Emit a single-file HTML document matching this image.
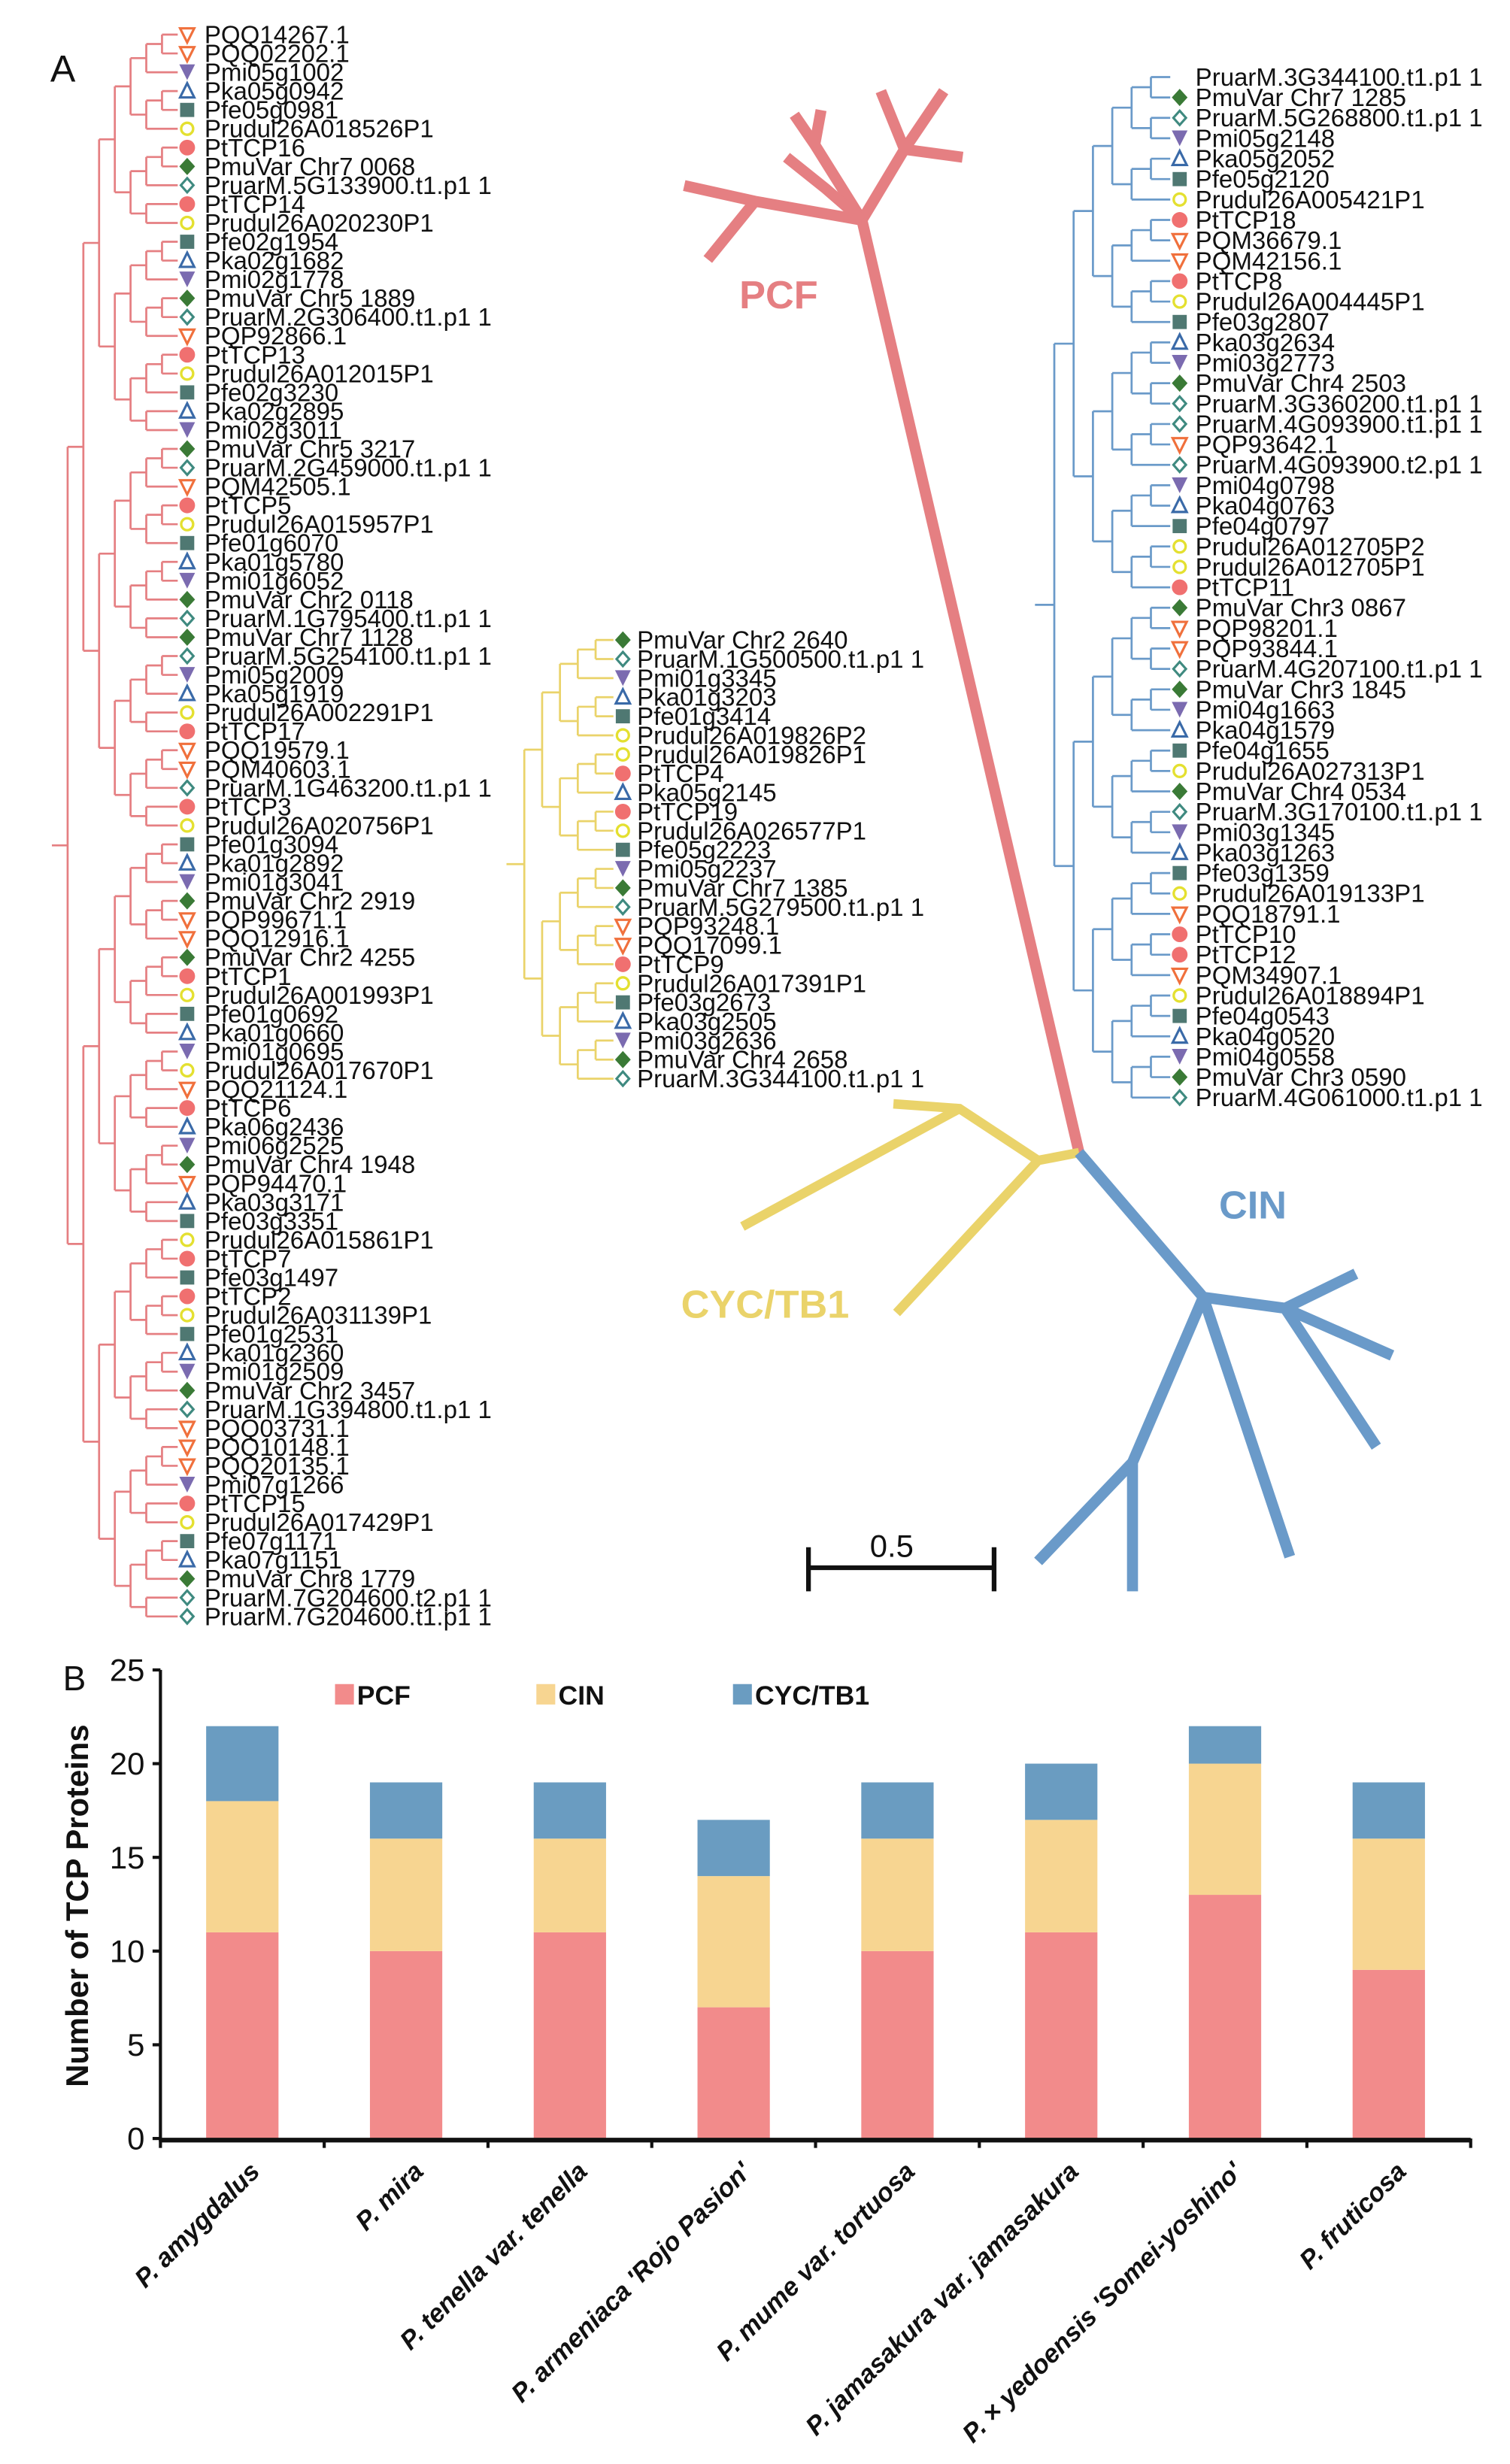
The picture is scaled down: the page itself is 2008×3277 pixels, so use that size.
<!DOCTYPE html>
<html><head><meta charset="utf-8"><style>
html,body{margin:0;padding:0;background:#fff}
svg{display:block}
text{font-family:"Liberation Sans",Arial,sans-serif}
</style></head><body>
<svg id="s" width="2008" height="3277" viewBox="0 0 960 1567" preserveAspectRatio="none" xmlns="http://www.w3.org/2000/svg">
<rect width="960" height="1567" fill="#fff"/>
<text x="32" y="52" font-size="24" fill="#111">A</text>
<g id="trees"></g>
<g fill="none" stroke-linecap="butt">
<g stroke="#e57f82" stroke-width="7">
<path d="M686,733 L548,140"/>
<path d="M548,140 L518,92 L505,73 M518,92 L522,70"/>
<path d="M548,140 L480,128 L435,118 M480,128 L450,165"/>
<path d="M548,140 L575,95 L560,58 M575,95 L600,58 M575,95 L612,100"/>
<path d="M548,140 L525,120 L500,100"/>
</g>
<g stroke="#ead36a" stroke-width="6">
<path d="M686,733 L660,738 L610,705 L568,702 M610,705 L472,780 M660,738 L570,835"/>
</g>
<g stroke="#6a9ac9" stroke-width="7">
<path d="M686,733 L765,825 L817,832 L862,810 M817,832 L885,862 M817,832 L875,920 M765,825 L720,930 L660,993 M720,930 L720,1012 M765,825 L820,990"/>
</g>
</g>
<text x="470" y="196" font-size="25" font-weight="bold" fill="#e57f82">PCF</text>
<text x="775" y="775" font-size="25" font-weight="bold" fill="#6a9ac9">CIN</text>
<text x="433" y="838" font-size="25" font-weight="bold" fill="#ead36a">CYC/TB1</text>
<path d="M514,997 H632 M514,984 V1012 M632,984 V1012" stroke="#111" stroke-width="3" fill="none"/>
<text x="553" y="990" font-size="20" fill="#111">0.5</text>
<text x="40" y="1075" font-size="22" fill="#111">B</text>
<g id="chart"></g>
</svg>
<script>
var NS="http://www.w3.org/2000/svg";
function el(p,t,a,txt){var e=document.createElementNS(NS,t);for(var k in a)e.setAttribute(k,a[k]);if(txt!=null)e.textContent=txt;p.appendChild(e);return e;}
var T=document.getElementById('trees');
function sym(x,y,name){
 var g=T;
 if(/^PQ/.test(name)) el(g,'path',{d:'M'+(x-4.5)+','+(y-4)+' L'+(x+4.5)+','+(y-4)+' L'+x+','+(y+5)+'Z',fill:'none',stroke:'#f0703c','stroke-width':1.5});
 else if(/^Pmi/.test(name)) el(g,'path',{d:'M'+(x-5)+','+(y-5)+' L'+(x+5)+','+(y-5)+' L'+x+','+(y+5)+'Z',fill:'#7b6bb0'});
 else if(/^Pka/.test(name)) el(g,'path',{d:'M'+(x-4.5)+','+(y+4)+' L'+(x+4.5)+','+(y+4)+' L'+x+','+(y-5)+'Z',fill:'none',stroke:'#3a6aa8','stroke-width':1.5});
 else if(/^Pfe/.test(name)) el(g,'rect',{x:x-4.5,y:y-4.5,width:9,height:9,fill:'#4f7872'});
 else if(/^Prudul/.test(name)) el(g,'circle',{cx:x,cy:y,r:3.8,fill:'none',stroke:'#e4e030','stroke-width':1.6});
 else if(/^PtTCP/.test(name)) el(g,'circle',{cx:x,cy:y,r:5,fill:'#f07070'});
 else if(/^PmuVar/.test(name)) el(g,'path',{d:'M'+x+','+(y-5.5)+' L'+(x+5)+','+y+' L'+x+','+(y+5.5)+' L'+(x-5)+','+y+'Z',fill:'#3a7a36'});
 else if(/^PruarM/.test(name)) el(g,'path',{d:'M'+x+','+(y-4.5)+' L'+(x+4)+','+y+' L'+x+','+(y+4.5)+' L'+(x-4)+','+y+'Z',fill:'none',stroke:'#3f8a80','stroke-width':1.5});
}
function tree(names,y0,dy,xroot,xleaf,color,tx,nosymFirst){
 var ys=names.map(function(_,i){return y0+i*dy;});
 var maxd=Math.ceil(Math.log2(names.length))+1;
 var step=(xleaf-xroot)/maxd;
 function b(lo,hi,x){
  if(lo==hi){el(T,'line',{x1:x,y1:ys[lo],x2:xleaf,y2:ys[lo],stroke:color,'stroke-width':1.3});return ys[lo];}
  var mid=Math.floor((lo+hi)/2);
  var nx=x+step;
  var a=b(lo,mid,nx),c=b(mid+1,hi,nx);
  el(T,'line',{x1:nx,y1:a,x2:nx,y2:c,stroke:color,'stroke-width':1.3});
  el(T,'line',{x1:x,y1:(a+c)/2,x2:nx,y2:(a+c)/2,stroke:color,'stroke-width':1.3});
  return (a+c)/2;
 }
 b(0,names.length-1,xroot);
 names.forEach(function(n,i){
  if(!(nosymFirst&&i==0)) sym(xleaf+6,ys[i],n);
  el(T,'text',{x:tx,y:ys[i]+5.5,'font-size':15.8,fill:'#111'},n);
 });
}
var L="PQQ14267.1|PQQ02202.1|Pmi05g1002|Pka05g0942|Pfe05g0981|Prudul26A018526P1|PtTCP16|PmuVar Chr7 0068|PruarM.5G133900.t1.p1 1|PtTCP14|Prudul26A020230P1|Pfe02g1954|Pka02g1682|Pmi02g1778|PmuVar Chr5 1889|PruarM.2G306400.t1.p1 1|PQP92866.1|PtTCP13|Prudul26A012015P1|Pfe02g3230|Pka02g2895|Pmi02g3011|PmuVar Chr5 3217|PruarM.2G459000.t1.p1 1|PQM42505.1|PtTCP5|Prudul26A015957P1|Pfe01g6070|Pka01g5780|Pmi01g6052|PmuVar Chr2 0118|PruarM.1G795400.t1.p1 1|PmuVar Chr7 1128|PruarM.5G254100.t1.p1 1|Pmi05g2009|Pka05g1919|Prudul26A002291P1|PtTCP17|PQQ19579.1|PQM40603.1|PruarM.1G463200.t1.p1 1|PtTCP3|Prudul26A020756P1|Pfe01g3094|Pka01g2892|Pmi01g3041|PmuVar Chr2 2919|PQP99671.1|PQQ12916.1|PmuVar Chr2 4255|PtTCP1|Prudul26A001993P1|Pfe01g0692|Pka01g0660|Pmi01g0695|Prudul26A017670P1|PQQ21124.1|PtTCP6|Pka06g2436|Pmi06g2525|PmuVar Chr4 1948|PQP94470.1|Pka03g3171|Pfe03g3351|Prudul26A015861P1|PtTCP7|Pfe03g1497|PtTCP2|Prudul26A031139P1|Pfe01g2531|Pka01g2360|Pmi01g2509|PmuVar Chr2 3457|PruarM.1G394800.t1.p1 1|PQQ03731.1|PQQ10148.1|PQQ20135.1|Pmi07g1266|PtTCP15|Prudul26A017429P1|Pfe07g1171|Pka07g1151|PmuVar Chr8 1779|PruarM.7G204600.t2.p1 1|PruarM.7G204600.t1.p1 1".split('|');
tree(L,22,1006/(L.length-1),33,113,'#e57f82',130);
var M="PmuVar Chr2 2640|PruarM.1G500500.t1.p1 1|Pmi01g3345|Pka01g3203|Pfe01g3414|Prudul26A019826P2|Prudul26A019826P1|PtTCP4|Pka05g2145|PtTCP19|Prudul26A026577P1|Pfe05g2223|Pmi05g2237|PmuVar Chr7 1385|PruarM.5G279500.t1.p1 1|PQP93248.1|PQQ17099.1|PtTCP9|Prudul26A017391P1|Pfe03g2673|Pka03g2505|Pmi03g2636|PmuVar Chr4 2658|PruarM.3G344100.t1.p1 1".split('|');
tree(M,407,279/(M.length-1),322,390,'#ead36a',405);
var R="PruarM.3G344100.t1.p1 1|PmuVar Chr7 1285|PruarM.5G268800.t1.p1 1|Pmi05g2148|Pka05g2052|Pfe05g2120|Prudul26A005421P1|PtTCP18|PQM36679.1|PQM42156.1|PtTCP8|Prudul26A004445P1|Pfe03g2807|Pka03g2634|Pmi03g2773|PmuVar Chr4 2503|PruarM.3G360200.t1.p1 1|PruarM.4G093900.t1.p1 1|PQP93642.1|PruarM.4G093900.t2.p1 1|Pmi04g0798|Pka04g0763|Pfe04g0797|Prudul26A012705P2|Prudul26A012705P1|PtTCP11|PmuVar Chr3 0867|PQP98201.1|PQP93844.1|PruarM.4G207100.t1.p1 1|PmuVar Chr3 1845|Pmi04g1663|Pka04g1579|Pfe04g1655|Prudul26A027313P1|PmuVar Chr4 0534|PruarM.3G170100.t1.p1 1|Pmi03g1345|Pka03g1263|Pfe03g1359|Prudul26A019133P1|PQQ18791.1|PtTCP10|PtTCP12|PQM34907.1|Prudul26A018894P1|Pfe04g0543|Pka04g0520|Pmi04g0558|PmuVar Chr3 0590|PruarM.4G061000.t1.p1 1".split('|');
tree(R,49,649/(R.length-1),658,744,'#6a9ac9',760,true);

var C=document.getElementById('chart');
var y0=1360,u=11.92,x0=102,x1=935;
var data=[["P. amygdalus",11,7,4],["P. mira",10,6,3],["P. tenella var. tenella",11,5,3],["P. armeniaca 'Rojo Pasion'",7,7,3],["P. mume var. tortuosa",10,6,3],["P. jamasakura var. jamasakura",11,6,3],["P. × yedoensis 'Somei-yoshino'",13,7,2],["P. fruticosa",9,7,3]];
var cols=['#f28b8b','#f7d591','#6a9cc1'];
var w=(x1-x0)/8;
data.forEach(function(d,i){
 var cx=x0+w*(i+0.5),yy=y0;
 for(var k=0;k<3;k++){var h=d[k+1]*u;el(C,'rect',{x:cx-23,y:yy-h,width:46,height:h,fill:cols[k]});yy-=h;}
 var ax=cx+12,ay=y0+22;
 el(C,'text',{x:ax,y:ay,'font-size':16.5,'font-weight':'bold','font-style':'italic',fill:'#111','text-anchor':'end',transform:'rotate(-45 '+ax+' '+ay+')'},d[0]);
});
el(C,'line',{x1:x0,y1:1062,x2:x0,y2:y0+2,stroke:'#111','stroke-width':2});
el(C,'line',{x1:x0,y1:y0+1,x2:x1,y2:y0+1,stroke:'#111','stroke-width':3});
for(var v=0;v<=25;v+=5){var y=y0-v*u;el(C,'line',{x1:x0-5,y1:y,x2:x0,y2:y,stroke:'#111','stroke-width':2});
 el(C,'text',{x:x0-10,y:y+7,'font-size':20,fill:'#111','text-anchor':'end'},v);}
for(var i=0;i<=8;i++){var x=x0+w*i;el(C,'line',{x1:x,y1:y0,x2:x,y2:y0+6,stroke:'#111','stroke-width':2});}
el(C,'text',{x:56,y:1212,'font-size':20,'font-weight':'bold',fill:'#111','text-anchor':'middle',transform:'rotate(-90 56 1212)'},'Number of TCP Proteins');
[['PCF',213,cols[0]],['CIN',341,cols[1]],['CYC/TB1',466,cols[2]]].forEach(function(l){
 el(C,'rect',{x:l[1],y:1071,width:12,height:13,fill:l[2]});
 el(C,'text',{x:l[1]+14,y:1084,'font-size':17,'font-weight':'bold',fill:'#111'},l[0]);
});
</script>
</body></html>
